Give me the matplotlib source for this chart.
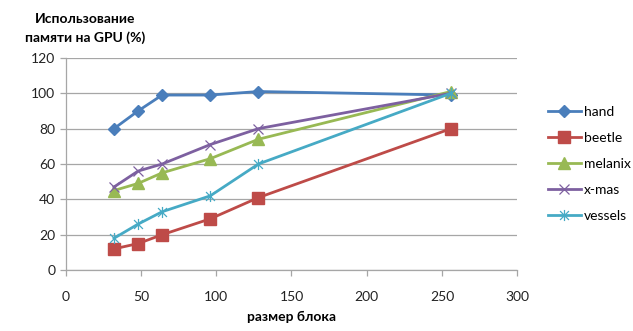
import matplotlib
matplotlib.use("Agg")
import matplotlib.pyplot as plt
from matplotlib.path import Path

plt.rcParams['font.family'] = ['Lato', 'DejaVu Sans']

block_size = [32, 48, 64, 96, 128, 256]
hand = [80, 90, 99, 99, 101, 99]
beetle = [12, 15, 20, 29, 41, 80]
melanix = [45, 49, 55, 63, 74, 101]
xmas = [47, 56, 60, 71, 80, 100]
vessels = [18, 26, 33, 42, 60, 100]

series_names = ['hand', 'beetle', 'melanix', 'x-mas', 'vessels']
x_ticks = [0, 50, 100, 150, 200, 250, 300]
y_ticks = [0, 20, 40, 60, 80, 100, 120]

# asterisk marker: an "x" crossed by a vertical stroke
star = Path([(-1, -1), (1, 1), (-1, 1), (1, -1), (0, -1.25), (0, 1.25)],
            [Path.MOVETO, Path.LINETO, Path.MOVETO, Path.LINETO, Path.MOVETO, Path.LINETO])

styles = [
    dict(color='#4A7EBB', marker='D', ms=6),
    dict(color='#BE4B48', marker='s', ms=8),
    dict(color='#98B954', marker='^', ms=8),
    dict(color='#7D60A0', marker='x', ms=7, mew=0.9),
    dict(color='#46AAC5', marker=star, ms=8, mew=0.9, mfc='none'),
]

fig = plt.figure(figsize=(6.33, 3.31), dpi=100)
ax = fig.add_axes([0.104, 0.184, 0.713, 0.641])

for vals, name, st in zip([hand, beetle, melanix, xmas, vessels], series_names, styles):
    ax.plot(block_size, vals, lw=2.0, label=name, **st)

ax.set_xlim(0, 300)
ax.set_ylim(0, 120)
ax.set_xticks(x_ticks)
ax.set_yticks(y_ticks)
ax.grid(axis='y', color='#A6A6A6', lw=0.9)
ax.set_axisbelow(True)
for s in ['top', 'right']:
    ax.spines[s].set_visible(False)
for s in ['left', 'bottom']:
    ax.spines[s].set_color('#A6A6A6')
    ax.spines[s].set_linewidth(0.9)
ax.tick_params(axis='both', colors='#A6A6A6', labelcolor='#222222', labelsize=10,
               length=4, width=0.9, direction='out')
ax.tick_params(axis='x', pad=11)

fig.text(0.135, 0.915, 'Использование\nпамяти на GPU (%)', ha='center', va='center',
         fontsize=10, fontweight='bold', linespacing=1.6)
ax.set_xlabel('размер блока', fontsize=10, fontweight='bold', labelpad=6)

ax.legend(loc='center left', bbox_to_anchor=(1.04, 0.5), frameon=False,
          fontsize=10, handlelength=2.4, labelspacing=1.0, handletextpad=0.2)

fig.savefig('out.png', dpi=100)
